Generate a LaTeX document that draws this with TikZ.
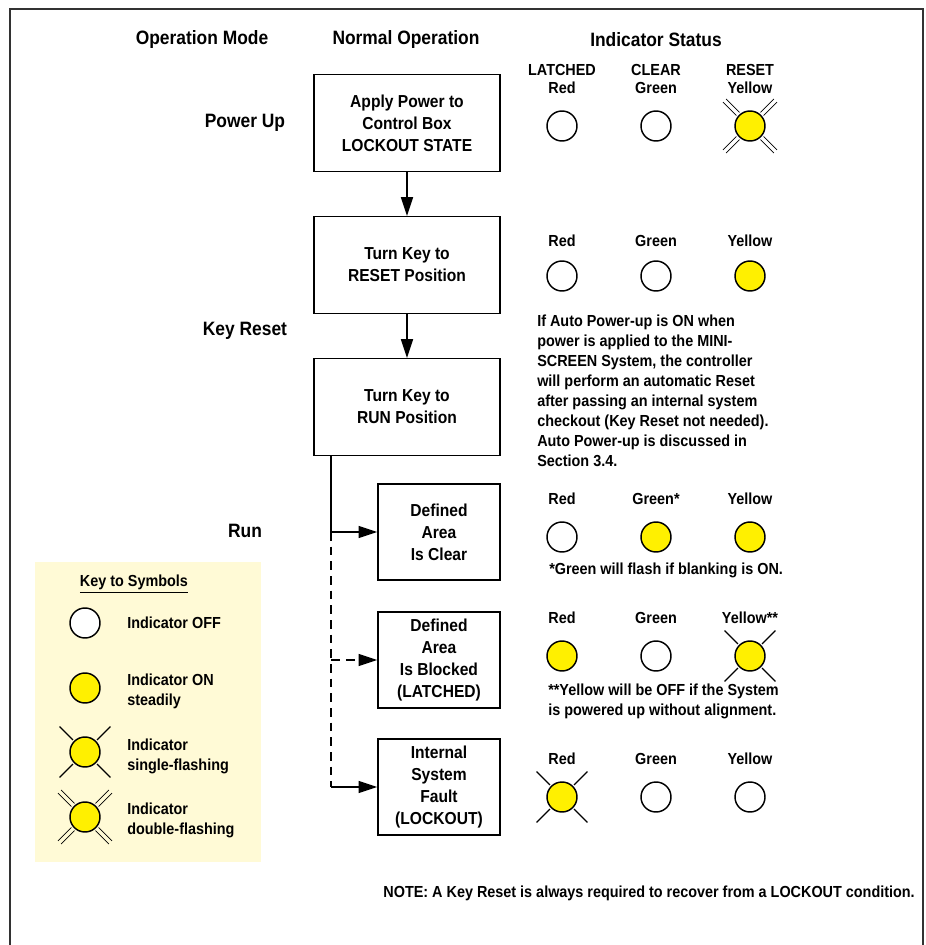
\documentclass[tikz,border=0pt]{standalone}
\usepackage{fontspec}
\setmainfont{Liberation Sans}[FakeStretch=0.9]
\usetikzlibrary{arrows.meta,positioning}
\definecolor{lampyellow}{RGB}{255,240,0}
\definecolor{keycream}{RGB}{255,250,214}
\definecolor{framegray}{RGB}{50,50,50}

% rays round a flashing indicator
\newcommand{\flashsingle}[1]{%
  \foreach \ray in {45,135,225,315}
    \draw[line width=0.9pt] (#1.center) ++(\ray:17) -- ++(\ray:19);}
\newcommand{\flashdouble}[1]{%
  \foreach \ray in {45,135,225,315}{
    \draw[line width=0.6pt] (#1.center) ++(\ray:17) ++(\ray+90:2.2) -- ++(\ray:19);
    \draw[line width=0.6pt] (#1.center) ++(\ray:17) ++(\ray-90:2.2) -- ++(\ray:19);}}

\begin{document}
\begin{tikzpicture}[x=0.75pt, y=-0.75pt,
    every node/.style={font=\bfseries\fontsize{12}{15}\selectfont},
    head/.style={font=\bfseries\fontsize{14.5}{17}\selectfont},
    stepbox/.style={draw, line width=1.2pt, align=center, minimum width=139.5pt, minimum height=72.5pt,
      font=\bfseries\fontsize{13}{16.5}\selectfont},
    smallbox/.style={stepbox, minimum width=91.5pt, minimum height=72pt},
    lamp/.style={circle, draw, line width=1.1pt, minimum size=22.5pt, inner sep=0pt},
    lampoff/.style={lamp, fill=white},
    lampon/.style={lamp, fill=lampyellow},
    toplabel/.style={align=center, font=\bfseries\fontsize{12}{13.5}\selectfont},
    tip/.style={-{Triangle[length=14pt, width=9pt]}},
    dashline/.style={dash pattern=on 6.5pt off 4.5pt}]

  \useasboundingbox (0,0) rectangle (925,945);

  % Outer frame, open at the bottom
  \draw[line width=2pt, framegray] (10,945) -- (10,9) -- (923,9) -- (923,945);

  % Column heads
  \node[head] (hmode) at (202,40) {Operation Mode};
  \node[head] (hnormal) at (406,40) {Normal Operation};
  \node[head] (hstatus) at (656,40) {Indicator Status};

  % Operation modes
  \node[head] (mpower) at (245,123) {Power Up};
  \node[head] (mreset) at (245,331) {Key Reset};
  \node[head] (mrun) at (245,531) {Run};

  % Normal operation steps
  \node[stepbox] (apply) at (407,123) {Apply Power to\\Control Box\\LOCKOUT STATE};
  \node[stepbox] (keyreset) at (407,265) {Turn Key to\\RESET Position};
  \node[stepbox] (keyrun) at (407,407) {Turn Key to\\RUN Position};
  \node[smallbox] (clear) at (439,532) {Defined\\Area\\Is Clear};
  \node[smallbox] (blocked) at (439,660) {Defined\\Area\\Is Blocked\\(LATCHED)};
  \node[smallbox] (fault) at (439,787) {Internal\\System\\Fault\\(LOCKOUT)};

  \draw[line width=1.1pt, tip] (apply) -- (keyreset);
  \draw[line width=1.1pt, tip] (keyreset) -- (keyrun);

  % Branches out of RUN position
  \coordinate (tap) at ([xshift=13.5pt]keyrun.south west);
  \draw[line width=1.1pt] (tap) -- (tap |- clear.west);
  \draw[line width=1.1pt, tip] (tap |- clear.west) -- (clear.west);
  \draw[line width=1.1pt, dashline] (tap |- clear.west) -- (tap |- fault.west);
  \draw[line width=1.1pt, dashline, tip] (tap |- blocked.west) -- (blocked.west);
  \draw[line width=1.1pt, tip] (tap |- fault.west) -- (fault.west);

  % Indicators at power up
  \node[toplabel] (lab1r) at (562,79) {LATCHED\\Red};
  \node[toplabel] (lab1g) at (656,79) {CLEAR\\Green};
  \node[toplabel] (lab1y) at (750,79) {RESET\\Yellow};
  \node[lampoff] (red1) at (562,126) {};
  \node[lampoff] (green1) at (656,126) {};
  \node[lampon] (yellow1) at (750,126) {};
  \flashdouble{yellow1}

  % Indicators at key reset
  \node (lab2r) at (562,241) {Red};
  \node (lab2g) at (656,241) {Green};
  \node (lab2y) at (750,241) {Yellow};
  \node[lampoff] (red2) at (562,276) {};
  \node[lampoff] (green2) at (656,276) {};
  \node[lampon] (yellow2) at (750,276) {};

  \node[anchor=west, align=left, inner sep=0pt] (autonote) at (537,391) {If Auto Power-up is ON when\\power is applied to the MINI-\\SCREEN System, the controller\\will perform an automatic Reset\\after passing an internal system\\checkout (Key Reset not needed).\\Auto Power-up is discussed in\\Section 3.4.};

  % Indicators, area clear
  \node (lab4r) at (562,499) {Red};
  \node (lab4g) at (656,499) {Green*};
  \node (lab4y) at (750,499) {Yellow};
  \node[lampoff] (red4) at (562,537) {};
  \node[lampon] (green4) at (656,537) {};
  \node[lampon] (yellow4) at (750,537) {};
  \node[anchor=west, inner sep=0pt] (greennote) at (549,570) {*Green will flash if blanking is ON.};

  % Indicators, area blocked
  \node (lab5r) at (562,618) {Red};
  \node (lab5g) at (656,618) {Green};
  \node (lab5y) at (750,618) {Yellow**};
  \node[lampon] (red5) at (562,656) {};
  \node[lampoff] (green5) at (656,656) {};
  \node[lampon] (yellow5) at (750,656) {};
  \flashsingle{yellow5}
  \node[anchor=west, align=left, inner sep=0pt] (yellownote) at (548,701) {**Yellow will be OFF if the System\\is powered up without alignment.};

  % Indicators, internal fault
  \node (lab6r) at (562,759) {Red};
  \node (lab6g) at (656,759) {Green};
  \node (lab6y) at (750,759) {Yellow};
  \node[lampon] (red6) at (562,797) {};
  \node[lampoff] (green6) at (656,797) {};
  \node[lampoff] (yellow6) at (750,797) {};
  \flashsingle{red6}

  \node[anchor=east, inner sep=0pt] (lockoutnote) at (915,893) {NOTE: A Key Reset is always required to recover from a LOCKOUT condition.};

  % Key to symbols
  \fill[keycream] (35,562) rectangle (261,862);
  \node (keytitle) at (134,584) {\underline{Key to Symbols}};
  \node[lampoff] (keyoff) at (85,623) {};
  \node[lampon] (keyon) at (85,688) {};
  \node[lampon] (keysingle) at (85,752) {};
  \node[lampon] (keydouble) at (85,817) {};
  \flashsingle{keysingle}
  \flashdouble{keydouble}
  \node[anchor=west, inner sep=0pt] (txtoff) at (127,623) {Indicator OFF};
  \node[anchor=west, align=left, inner sep=0pt] (txton) at (127,691) {Indicator ON\\steadily};
  \node[anchor=west, align=left, inner sep=0pt] (txtsingle) at (127,756) {Indicator\\single-flashing};
  \node[anchor=west, align=left, inner sep=0pt] (txtdouble) at (127,820) {Indicator\\double-flashing};
\end{tikzpicture}
\end{document}
